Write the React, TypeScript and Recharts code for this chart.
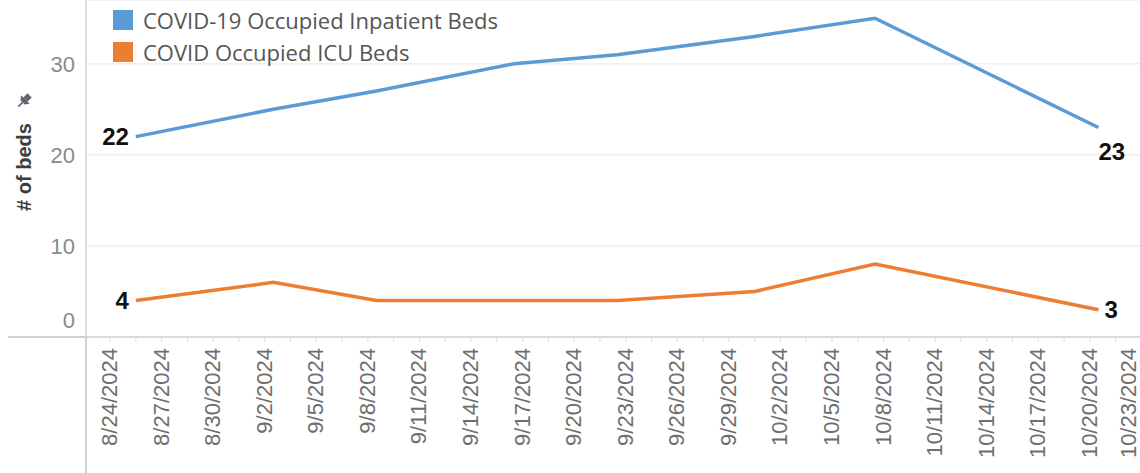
import React from 'react';
import { LineChart, Line, XAxis, YAxis, CartesianGrid, Legend } from 'recharts';

// ---- data ----
const dates = ['8/25/2024', '9/2/2024', '9/8/2024', '9/16/2024', '9/22/2024', '9/30/2024', '10/7/2024', '10/20/2024'];
const inpatientBeds = [22, 25, 27, 30, 31, 33, 35, 23];
const icuBeds = [4, 6, 4, 4, 4, 5, 8, 3];
const seriesNames = ['COVID-19 Occupied Inpatient Beds', 'COVID Occupied ICU Beds'];
const tickLabels = [
  '8/24/2024', '8/27/2024', '8/30/2024', '9/2/2024', '9/5/2024', '9/8/2024', '9/11/2024',
  '9/14/2024', '9/17/2024', '9/20/2024', '9/23/2024', '9/26/2024', '9/29/2024', '10/2/2024',
  '10/5/2024', '10/8/2024', '10/11/2024', '10/14/2024', '10/17/2024', '10/20/2024', '10/23/2024',
];
const yTicks = [0, 10, 20, 30];

const BLUE = '#5B9BD5';
const ORANGE = '#ED7D31';
const AXIS_FONT = '"Liberation Sans", Arial, sans-serif';
const LEGEND_FONT = '"Open Sans", "Noto Sans", sans-serif';
const VISIBLE_WIDTH = 1140;

const dayIndex = (s: string) => {
  const [m, d, y] = s.split('/').map(Number);
  return Math.round((Date.UTC(y, m - 1, d) - Date.UTC(2024, 7, 24)) / 86400000);
};

// points sit at the middle of their day
const data = dates.map((d, i) => ({
  x: dayIndex(d) + 0.5,
  date: d,
  inpatient: inpatientBeds[i],
  icu: icuBeds[i],
}));

const majorTicks = tickLabels.map(dayIndex);
const minorTicks = majorTicks.slice(0, -1).map((t) => t + 1.5);
const allTicks = [...majorTicks, ...minorTicks].sort((a, b) => a - b);
const labelFor = new Map<number, string>(majorTicks.map((t, i) => [t, tickLabels[i]]));

const XTick = (props: any) => {
  const { x, y, payload } = props;
  const label = labelFor.get(payload.value);
  const baseX = Math.min(x + 7, VISIBLE_WIDTH - 4);
  return (
    <g>
      <line x1={x} x2={x} y1={y + 1} y2={y + 5} stroke="#dcdcdc" strokeWidth={1} />
      {label && (
        <text
          x={0}
          y={0}
          transform={`translate(${baseX},${y + 11}) rotate(-90)`}
          textAnchor="end"
          fontSize={22}
          fill="#6e6e6e"
          fontFamily={AXIS_FONT}
        >
          {label}
        </text>
      )}
    </g>
  );
};

const YTick = (props: any) => {
  const { x, y, payload } = props;
  return (
    <text
      x={x}
      y={payload.value === 0 ? y - 17 : y}
      dy="0.36em"
      textAnchor="end"
      fontSize={22}
      fill="#8a8a8a"
      fontFamily={AXIS_FONT}
    >
      {payload.value}
    </text>
  );
};

const YLabel = () => (
  <g>
    <text
      x={0}
      y={0}
      transform="translate(31,167) rotate(-90)"
      textAnchor="middle"
      fontSize={20}
      fontWeight="bold"
      fill="#3c3c3c"
      fontFamily={AXIS_FONT}
    >
      # of beds
    </text>
    <g transform="translate(24,101) rotate(45)" fill="#5f6670">
      <rect x={-3} y={-8} width={6} height={6} />
      <polygon points="-6,-2 6,-2 3,2 -3,2" />
      <rect x={-0.8} y={2} width={1.6} height={6} />
    </g>
  </g>
);

const makeLabel = (series: 'inpatient' | 'icu') => (props: any) => {
  const { x, y, index, value } = props;
  const last = data.length - 1;
  const common = {
    fontSize: 24,
    fontWeight: 'bold' as const,
    fill: '#111',
    fontFamily: AXIS_FONT,
  };
  if (index === 0) {
    return (
      <text key={`${series}-first`} x={x - 7} y={y} dy="0.36em" textAnchor="end" {...common}>
        {value}
      </text>
    );
  }
  if (index === last) {
    if (series === 'inpatient') {
      return (
        <text key={`${series}-last`} x={x} y={y + 24} dy="0.36em" textAnchor="start" {...common}>
          {value}
        </text>
      );
    }
    return (
      <text key={`${series}-last`} x={x + 6} y={y} dy="0.36em" textAnchor="start" {...common}>
        {value}
      </text>
    );
  }
  return <g key={`${series}-${index}`} />;
};

const LegendContent = (props: any) => {
  const items = [...(props.payload || [])].sort(
    (a: any, b: any) => seriesNames.indexOf(a.value) - seriesNames.indexOf(b.value),
  );
  return (
    <div>
      {items.map((p: any) => (
        <div key={p.value} style={{ display: 'flex', alignItems: 'center', height: 32 }}>
          <span style={{ width: 20, height: 20, background: p.color, marginRight: 10, display: 'inline-block' }} />
          <span style={{ fontFamily: LEGEND_FONT, fontSize: 22, color: '#555', whiteSpace: 'nowrap' }}>{p.value}</span>
        </div>
      ))}
    </div>
  );
};

export default function App() {
  return (
    <div
      style={{
        position: 'absolute',
        left: 0,
        top: 0,
        width: VISIBLE_WIDTH,
        height: 473,
        overflow: 'hidden',
        background: '#fff',
      }}
    >
      <LineChart width={1160} height={473} data={data} margin={{ top: 0, right: 0, bottom: 0, left: 0 }}>
        <CartesianGrid vertical={false} stroke="#efefef" strokeWidth={1.5} />
        <XAxis
          type="number"
          dataKey="x"
          domain={[-1.4, 61.08]}
          ticks={allTicks}
          interval={0}
          allowDataOverflow
          height={136}
          tickSize={0}
          tickMargin={0}
          tickLine={false}
          axisLine={{ stroke: '#d0d0d0', strokeWidth: 1.5 }}
          tick={<XTick />}
        />
        <YAxis
          type="number"
          domain={[0, 37]}
          ticks={yTicks}
          allowDataOverflow
          width={86}
          tickSize={0}
          tickMargin={11}
          tickLine={false}
          axisLine={{ stroke: '#d0d0d0', strokeWidth: 1.5 }}
          tick={<YTick />}
          label={<YLabel />}
        />
        <Legend
          layout="vertical"
          align="center"
          verticalAlign="middle"
          wrapperStyle={{ left: 113, top: 4, width: 'auto' }}
          content={<LegendContent />}
        />
        <Line
          name={seriesNames[0]}
          type="linear"
          dataKey="inpatient"
          stroke={BLUE}
          strokeWidth={3.5}
          dot={false}
          activeDot={false}
          isAnimationActive={false}
          label={makeLabel('inpatient')}
        />
        <Line
          name={seriesNames[1]}
          type="linear"
          dataKey="icu"
          stroke={ORANGE}
          strokeWidth={3.5}
          dot={false}
          activeDot={false}
          isAnimationActive={false}
          label={makeLabel('icu')}
        />
      </LineChart>
      <div style={{ position: 'absolute', left: 85.25, top: 337, width: 1.5, height: 136, background: '#d0d0d0' }} />
      <div style={{ position: 'absolute', left: 8, top: 336.25, width: 78, height: 1.5, background: '#d0d0d0' }} />
    </div>
  );
}
